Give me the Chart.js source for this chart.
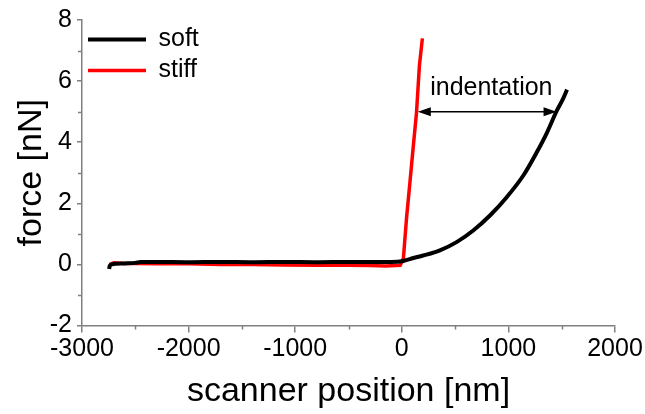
<!DOCTYPE html>
<html>
<head>
<meta charset="utf-8">
<script src="https://cdn.jsdelivr.net/npm/chart.js@4/dist/chart.umd.min.js"></script>
<style>
html,body{margin:0;padding:0;background:#fff;}
#wrap{width:645px;height:414px;}
</style>
</head>
<body>
<div id="wrap"><canvas id="c" width="645" height="414"></canvas></div>
<script>
// ---- data ----
const seriesNames = ['soft', 'stiff'];
const softX = [-2745,-2740,-2720,-2680,-2600,-2500,-2450,-2300,-2000,-1700,-1400,-1100,-800,-500,-300,-100,0,50,100,200,357,514,670,827,984,1140,1266,1360,1454,1510,1550];
const softY = [-0.15,-0.05,0.0,0.02,0.03,0.05,0.08,0.08,0.07,0.08,0.07,0.08,0.07,0.08,0.08,0.08,0.1,0.15,0.2,0.29,0.46,0.73,1.11,1.6,2.2,2.91,3.67,4.3,5.03,5.4,5.72];
const stiffX = [-2740,-2700,-2600,-2500,-2300,-2000,-1700,-1400,-1100,-800,-500,-300,-150,-15,15,44,78,110,138,165,193];
const stiffY = [0.0,0.05,0.03,0.03,0.02,0.02,0.0,0.0,-0.02,-0.03,-0.03,-0.04,-0.05,-0.03,0.2,1.5,2.75,3.95,4.97,6.5,7.4];
const xTickRange = [-3000, 2000, 1000];   // min, max, step
const yTickRange = [-2, 8, 2];
const xMinorStep = 500;
const yMinorStep = 1;
const annotText = 'indentation';
const arrowX = [150, 1452];
const arrowY = 5.0;
const annotTextPos = [840, 5.55];

const FONT = "'Liberation Sans', Arial, Helvetica, sans-serif";
const AXIS_COLOR = '#808080';
const LEGEND_SHIFT = 21;

function pts(xs, ys){ return xs.map((x,i)=>({x:x, y:ys[i]})); }

const extras = {
  id: 'extras',
  afterLayout(chart){
    if (chart.legend){
      chart.legend.top += LEGEND_SHIFT;
      chart.legend.bottom += LEGEND_SHIFT;
    }
  },
  afterDraw(chart){
    const ctx = chart.ctx;
    const xs = chart.scales.x, ys = chart.scales.y;
    const area = chart.chartArea;
    ctx.save();
    // minor ticks
    ctx.strokeStyle = AXIS_COLOR;
    ctx.lineWidth = 1.5;
    ctx.beginPath();
    for (let v = xTickRange[0]; v <= xTickRange[1]; v += xMinorStep){
      if (v % xTickRange[2] === 0) continue;
      const px = Math.round(xs.getPixelForValue(v)) + 0.5;
      ctx.moveTo(px, area.bottom);
      ctx.lineTo(px, area.bottom + 4);
    }
    for (let v = yTickRange[0]; v <= yTickRange[1]; v += yMinorStep){
      if (v % yTickRange[2] === 0) continue;
      const py = Math.round(ys.getPixelForValue(v)) + 0.5;
      ctx.moveTo(area.left, py);
      ctx.lineTo(area.left - 4, py);
    }
    ctx.stroke();
    // annotation arrow
    const x1 = xs.getPixelForValue(arrowX[0]);
    const x2 = xs.getPixelForValue(arrowX[1]);
    const y = ys.getPixelForValue(arrowY);
    const hl = 13, hw = 4.5;
    ctx.strokeStyle = '#000';
    ctx.fillStyle = '#000';
    ctx.lineWidth = 1.5;
    ctx.beginPath();
    ctx.moveTo(x1 + hl - 2, y);
    ctx.lineTo(x2 - hl + 2, y);
    ctx.stroke();
    ctx.beginPath();
    ctx.moveTo(x1, y); ctx.lineTo(x1 + hl, y - hw); ctx.lineTo(x1 + hl, y + hw); ctx.closePath(); ctx.fill();
    ctx.beginPath();
    ctx.moveTo(x2, y); ctx.lineTo(x2 - hl, y - hw); ctx.lineTo(x2 - hl, y + hw); ctx.closePath(); ctx.fill();
    // annotation text
    ctx.font = '25px ' + FONT;
    ctx.textAlign = 'center';
    ctx.textBaseline = 'alphabetic';
    ctx.fillText(annotText, xs.getPixelForValue(annotTextPos[0]), ys.getPixelForValue(annotTextPos[1]));
    ctx.restore();
  }
};

new Chart(document.getElementById('c'), {
  type: 'line',
  data: {
    datasets: [
      { label: seriesNames[0], data: pts(softX, softY), borderColor: '#000000', backgroundColor: '#000000', borderWidth: 4, pointRadius: 0, cubicInterpolationMode: 'monotone' },
      { label: seriesNames[1], data: pts(stiffX, stiffY), borderColor: '#ff0000', backgroundColor: '#ff0000', borderWidth: 3.5, pointRadius: 0, tension: 0 }
    ]
  },
  options: {
    responsive: false,
    animation: false,
    devicePixelRatio: 1,
    layout: { padding: { left: 0, top: 20, right: 30, bottom: 0 } },
    plugins: {
      legend: {
        position: 'chartArea',
        align: 'start',
        labels: {
          usePointStyle: true,
          pointStyle: 'line',
          pointStyleWidth: 58,
          padding: 6,
          color: '#000',
          font: { family: FONT, size: 25 }
        }
      },
      tooltip: { enabled: false }
    },
    scales: {
      x: {
        type: 'linear',
        min: xTickRange[0], max: xTickRange[1],
        ticks: { stepSize: xTickRange[2], color: '#000', padding: 2, maxRotation: 0, font: { family: FONT, size: 25 }, callback: v => String(v) },
        grid: { drawOnChartArea: false, drawTicks: true, tickLength: 7, color: AXIS_COLOR, lineWidth: 1.5 },
        border: { display: true, color: AXIS_COLOR, width: 1.5 },
        title: { display: true, text: 'scanner position [nm]', color: '#000', font: { family: FONT, size: 34 }, padding: { top: 0, bottom: 2 } },
        afterFit(s){ s.height = 88.5; }
      },
      y: {
        type: 'linear',
        min: yTickRange[0], max: yTickRange[1],
        ticks: { stepSize: yTickRange[2], color: '#000', padding: 5, font: { family: FONT, size: 25 }, callback: v => String(v) },
        grid: { drawOnChartArea: false, drawTicks: true, tickLength: 5, color: AXIS_COLOR, lineWidth: 1.5 },
        border: { display: true, color: AXIS_COLOR, width: 1.5 },
        title: { display: true, text: 'force [nN]', color: '#000', font: { family: FONT, size: 34 }, padding: { top: 11, bottom: 0 } },
        afterFit(s){ s.width = 82; }
      }
    }
  },
  plugins: [extras]
});
</script>
</body>
</html>
